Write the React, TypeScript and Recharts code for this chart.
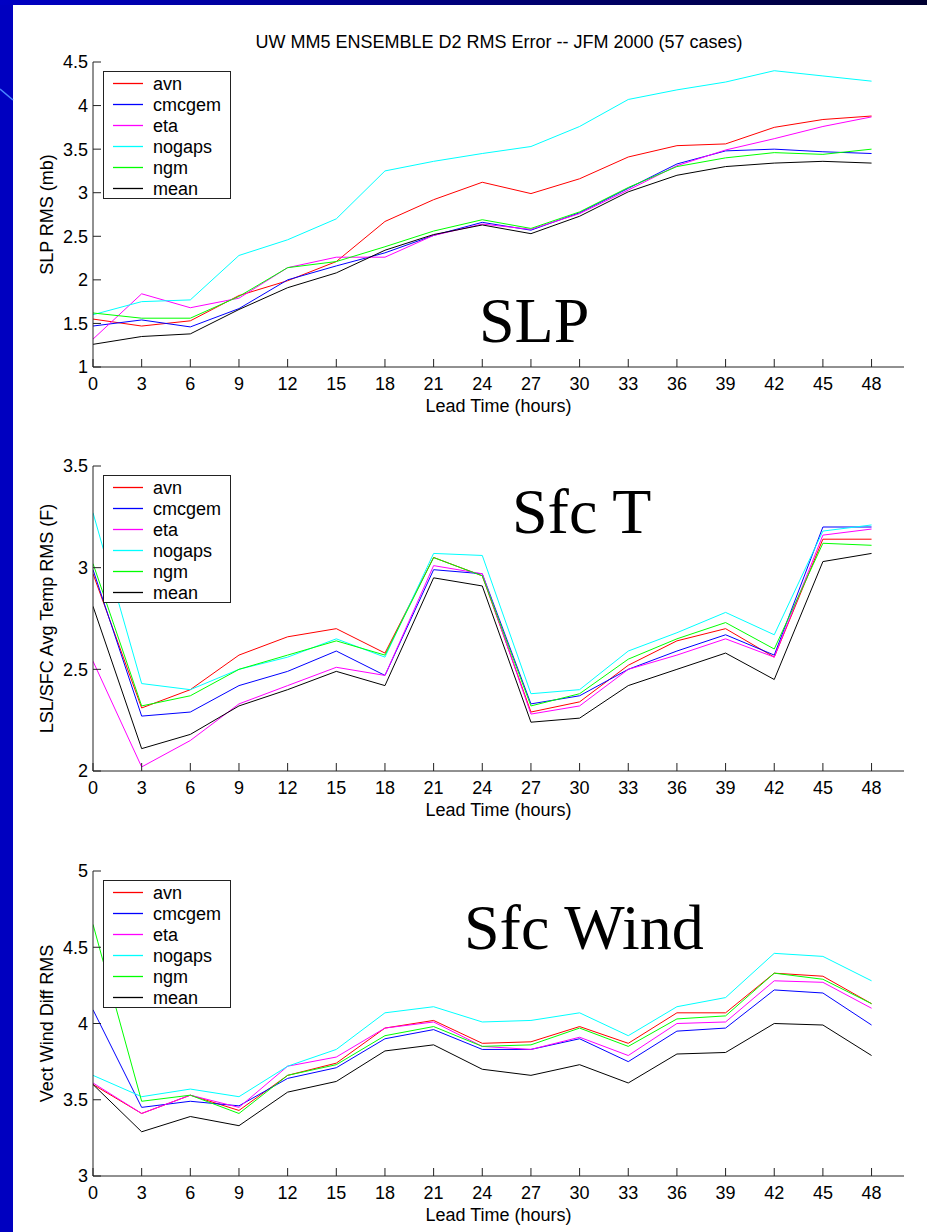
import React from "react";
import { LineChart, Line, XAxis, YAxis, Legend } from "recharts";

const FONT = '"Liberation Sans", Arial, Helvetica, sans-serif';
const SERIF = '"Liberation Serif", "Times New Roman", serif';
const FS = 18;

const leadTimes = [0, 3, 6, 9, 12, 15, 18, 21, 24, 27, 30, 33, 36, 39, 42, 45, 48];
const models = ["avn", "cmcgem", "eta", "nogaps", "ngm", "mean"];
const modelColors = ["#ff0000", "#0000ff", "#ff00ff", "#00ffff", "#00ff00", "#000000"];

// SLP RMS (mb)
const slpAvn = [1.55, 1.47, 1.53, 1.82, 1.99, 2.21, 2.67, 2.92, 3.12, 2.99, 3.16, 3.41, 3.54, 3.56, 3.75, 3.84, 3.88];
const slpCmcgem = [1.47, 1.54, 1.46, 1.67, 2.0, 2.16, 2.31, 2.51, 2.66, 2.57, 2.77, 3.05, 3.33, 3.48, 3.5, 3.47, 3.45];
const slpEta = [1.32, 1.84, 1.68, 1.79, 2.14, 2.26, 2.26, 2.51, 2.64, 2.58, 2.76, 3.03, 3.31, 3.49, 3.62, 3.76, 3.87];
const slpNogaps = [1.6, 1.75, 1.77, 2.28, 2.46, 2.7, 3.25, 3.36, 3.45, 3.53, 3.76, 4.07, 4.18, 4.27, 4.4, 4.34, 4.28];
const slpNgm = [1.62, 1.56, 1.56, 1.81, 2.14, 2.21, 2.38, 2.56, 2.69, 2.59, 2.78, 3.06, 3.3, 3.4, 3.46, 3.44, 3.5];
const slpMean = [1.26, 1.35, 1.38, 1.66, 1.91, 2.08, 2.34, 2.52, 2.63, 2.53, 2.73, 3.01, 3.2, 3.3, 3.34, 3.36, 3.34];

// LSL/SFC Avg Temp RMS (F)
const tAvn = [2.97, 2.31, 2.4, 2.57, 2.66, 2.7, 2.58, 3.05, 2.96, 2.29, 2.34, 2.52, 2.64, 2.7, 2.56, 3.14, 3.14];
const tCmcgem = [2.99, 2.27, 2.29, 2.42, 2.49, 2.59, 2.47, 2.99, 2.97, 2.33, 2.37, 2.5, 2.59, 2.67, 2.57, 3.2, 3.2];
const tEta = [2.54, 2.02, 2.15, 2.33, 2.42, 2.51, 2.47, 3.01, 2.97, 2.28, 2.32, 2.5, 2.57, 2.65, 2.56, 3.16, 3.19];
const tNogaps = [3.27, 2.43, 2.4, 2.5, 2.56, 2.65, 2.56, 3.07, 3.06, 2.38, 2.4, 2.59, 2.68, 2.78, 2.67, 3.18, 3.21];
const tNgm = [3.02, 2.32, 2.37, 2.5, 2.57, 2.64, 2.57, 3.05, 2.96, 2.32, 2.38, 2.55, 2.65, 2.73, 2.6, 3.12, 3.11];
const tMean = [2.81, 2.11, 2.18, 2.32, 2.4, 2.49, 2.42, 2.95, 2.91, 2.24, 2.26, 2.42, 2.5, 2.58, 2.45, 3.03, 3.07];

// Vect Wind Diff RMS
const wAvn = [3.6, 3.41, 3.53, 3.43, 3.66, 3.74, 3.97, 4.02, 3.87, 3.88, 3.98, 3.87, 4.07, 4.07, 4.33, 4.31, 4.13];
const wCmcgem = [4.09, 3.45, 3.49, 3.46, 3.64, 3.71, 3.9, 3.96, 3.83, 3.83, 3.9, 3.75, 3.95, 3.97, 4.22, 4.2, 3.99];
const wEta = [3.61, 3.41, 3.53, 3.45, 3.72, 3.78, 3.97, 4.01, 3.85, 3.83, 3.91, 3.79, 4.0, 4.01, 4.28, 4.27, 4.1];
const wNogaps = [3.66, 3.52, 3.57, 3.52, 3.72, 3.83, 4.07, 4.11, 4.01, 4.02, 4.07, 3.92, 4.11, 4.17, 4.46, 4.44, 4.28];
const wNgm = [4.65, 3.49, 3.53, 3.41, 3.66, 3.73, 3.92, 3.98, 3.85, 3.86, 3.97, 3.85, 4.03, 4.05, 4.33, 4.29, 4.13];
const wMean = [3.6, 3.29, 3.39, 3.33, 3.55, 3.62, 3.82, 3.86, 3.7, 3.66, 3.73, 3.61, 3.8, 3.81, 4.0, 3.99, 3.79];

const slpTicks = [1, 1.5, 2, 2.5, 3, 3.5, 4, 4.5];
const tTicks = [2, 2.5, 3, 3.5];
const wTicks = [3, 3.5, 4, 4.5, 5];

const buildRows = (series: number[][]) =>
  leadTimes.map((t, i) => {
    const row: Record<string, number> = { lead: t };
    models.forEach((m, k) => {
      row[m] = series[k][i];
    });
    return row;
  });

const slpRows = buildRows([slpAvn, slpCmcgem, slpEta, slpNogaps, slpNgm, slpMean]);
const tRows = buildRows([tAvn, tCmcgem, tEta, tNogaps, tNgm, tMean]);
const wRows = buildRows([wAvn, wCmcgem, wEta, wNogaps, wNgm, wMean]);

const noLabel = () => <g />;
const tickStyle = { fill: "#000", fontSize: FS, fontFamily: FONT };

// MATLAB-style boxed legend, kept in model order
const LegendBox = () => (
  <svg width={128} height={128} style={{ display: "block" }}>
    <rect x={0.5} y={0.5} width={127} height={127} fill="#fff" stroke="#222" strokeWidth={1} />
    {models.map((m, i) => (
      <g key={m}>
        <line
          x1={10}
          x2={40}
          y1={12.5 + i * 21}
          y2={12.5 + i * 21}
          stroke={modelColors[i]}
          strokeWidth={1.3}
        />
        <text
          x={50}
          y={12.5 + i * 21}
          dy="0.35em"
          fontSize={FS}
          fontFamily={FONT}
          fill="#000"
        >
          {m}
        </text>
      </g>
    ))}
  </svg>
);

interface PanelProps {
  top: number;
  rows: Record<string, number>[];
  domain: [number, number];
  ticks: number[];
  yLabel: string;
}

const Panel: React.FC<PanelProps> = ({ top, rows, domain, ticks, yLabel }) => (
  <div style={{ position: "absolute", left: 0, top, width: 927, height: 420 }}>
    <LineChart
      width={927}
      height={420}
      data={rows}
      margin={{ top: 62, right: 23, bottom: 23, left: 33 }}
    >
      <XAxis
        dataKey="lead"
        type="number"
        domain={[0, 50]}
        ticks={leadTimes}
        interval={0}
        allowDataOverflow
        tickSize={-8}
        tickMargin={18}
        height={30}
        stroke="#222"
        tick={tickStyle}
        label={{
          value: "Lead Time (hours)",
          position: "bottom",
          offset: 2,
          fill: "#000",
          fontSize: FS,
          fontFamily: FONT,
        }}
      />
      <XAxis
        xAxisId="top"
        orientation="top"
        dataKey="lead"
        type="number"
        domain={[0, 50]}
        ticks={leadTimes}
        interval={0}
        allowDataOverflow
        tickSize={-8}
        height={0}
        stroke="#222"
        tick={noLabel}
      />
      <YAxis
        type="number"
        domain={domain}
        ticks={ticks}
        interval={0}
        allowDataOverflow
        tickSize={-8}
        tickMargin={13}
        width={60}
        stroke="#222"
        tick={tickStyle}
        label={{
          value: yLabel,
          angle: -90,
          position: "insideLeft",
          offset: 14,
          fill: "#000",
          fontSize: FS,
          fontFamily: FONT,
          style: { textAnchor: "middle" },
        }}
      />
      <YAxis
        yAxisId="right"
        orientation="right"
        type="number"
        domain={domain}
        ticks={ticks}
        interval={0}
        allowDataOverflow
        tickSize={-8}
        width={0}
        stroke="#222"
        tick={noLabel}
      />
      <Legend
        content={LegendBox}
        layout="vertical"
        align="center"
        verticalAlign="middle"
        wrapperStyle={{ left: 103, top: 71, width: 128, height: 128 }}
      />
      {models.map((m, k) => (
        <Line
          key={m}
          type="linear"
          dataKey={m}
          name={m}
          stroke={modelColors[k]}
          strokeWidth={1}
          dot={false}
          activeDot={false}
          isAnimationActive={false}
        />
      ))}
    </LineChart>
  </div>
);

export default function App() {
  return (
    <div
      style={{
        position: "absolute",
        left: 0,
        top: 0,
        width: 927,
        height: 1232,
        background: "#0000c0",
        overflow: "hidden",
      }}
    >
      <div
        style={{
          position: "absolute",
          left: 0,
          top: 0,
          width: 927,
          height: 5,
          background: "linear-gradient(to right, #0000c4, #000030)",
        }}
      />
      <div
        style={{
          position: "absolute",
          left: 13,
          top: 5,
          width: 914,
          height: 1227,
          background: "#fff",
        }}
      />
      <Panel top={0} rows={slpRows} domain={[1, 4.5]} ticks={slpTicks} yLabel="SLP RMS (mb)" />
      <Panel top={404} rows={tRows} domain={[2, 3.5]} ticks={tTicks} yLabel="LSL/SFC Avg Temp RMS (F)" />
      <Panel top={809} rows={wRows} domain={[3, 5]} ticks={wTicks} yLabel="Vect Wind Diff RMS" />
      <svg
        width={927}
        height={1232}
        style={{ position: "absolute", left: 0, top: 0, pointerEvents: "none" }}
      >
        <line x1={0} y1={89} x2={13} y2={100} stroke="#4a86ff" strokeWidth={1.5} />
        <text x={499} y={48} textAnchor="middle" fontFamily={FONT} fontSize={FS} fill="#000">
          UW MM5 ENSEMBLE D2 RMS Error -- JFM 2000 (57 cases)
        </text>
        <text x={479} y={342} fontFamily={SERIF} fontSize={64} fill="#000">
          SLP
        </text>
        <text x={512} y={533} fontFamily={SERIF} fontSize={64} fill="#000">
          Sfc T
        </text>
        <text x={464} y={949} fontFamily={SERIF} fontSize={64} fill="#000">
          Sfc Wind
        </text>
      </svg>
    </div>
  );
}
